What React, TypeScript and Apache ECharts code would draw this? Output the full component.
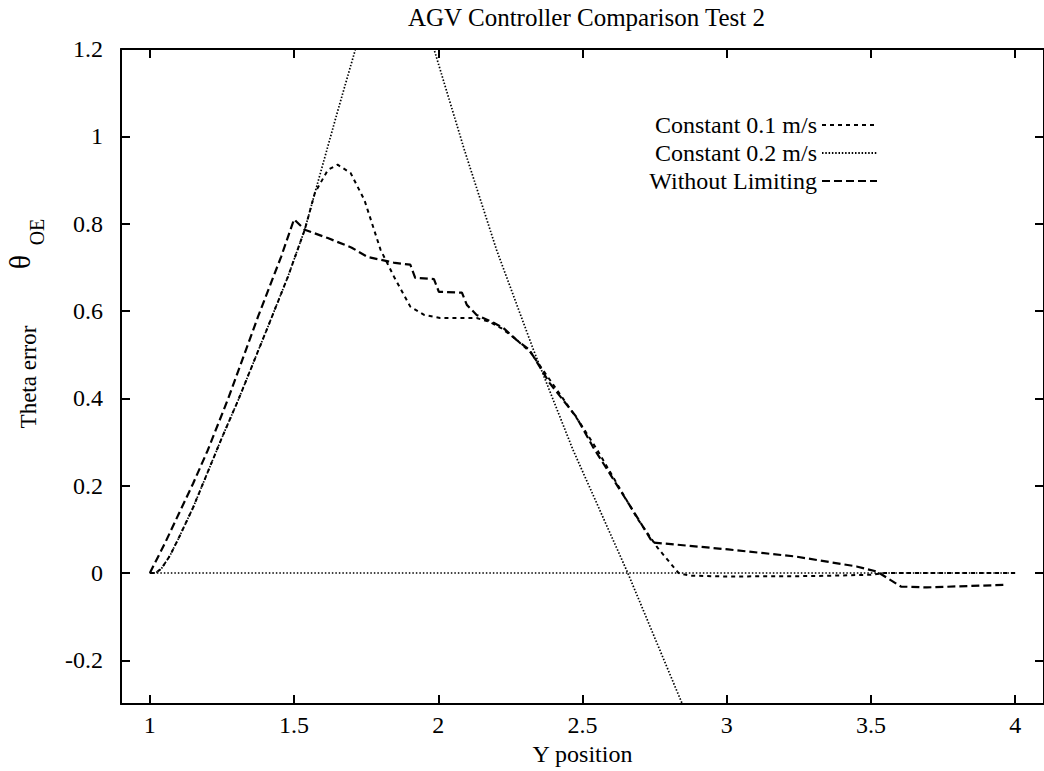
import React, { useEffect, useRef } from "react";
import * as echarts from "echarts";

const FONT = "'Liberation Serif', 'Times New Roman', serif";

const titleText = "AGV Controller Comparison Test 2";
const xAxisTitle = "Y position";
const yAxisTitle = "Theta error";
const seriesNames = ["Constant 0.1 m/s", "Constant 0.2 m/s", "Without Limiting"];

const xRange = [0.9, 4.1];
const yRange = [-0.3, 1.2];

// Constant 0.1 m/s
const c01X = [1.0, 1.02, 1.04, 1.07, 1.1, 1.15, 1.2, 1.25, 1.307, 1.41, 1.479, 1.537, 1.572, 1.617, 1.651, 1.696, 1.744, 1.8, 1.847, 1.903, 1.951, 2.006, 2.133, 2.178, 2.22, 2.27, 2.32, 2.4, 2.49, 2.55, 2.69, 2.76, 2.833, 2.87, 3.0, 3.3, 3.5, 3.546, 3.8, 4.0];
const c01Y = [0.0, 0.0, 0.01, 0.04, 0.08, 0.15, 0.23, 0.31, 0.397, 0.565, 0.679, 0.786, 0.87, 0.923, 0.935, 0.916, 0.854, 0.74, 0.678, 0.61, 0.591, 0.584, 0.584, 0.575, 0.56, 0.535, 0.505, 0.43, 0.345, 0.283, 0.125, 0.058, 0.0, -0.006, -0.008, -0.007, -0.004, 0.0, 0.0, 0.0];

// Constant 0.2 m/s
const c02X = [1.0, 1.02, 1.04, 1.07, 1.1, 1.15, 1.2, 1.25, 1.307, 1.41, 1.479, 1.537, 1.575, 1.65, 1.713, 1.84, 1.985, 2.09, 2.202, 2.33, 2.467, 2.657, 2.846, 2.88];
const c02Y = [0.0, 0.0, 0.01, 0.04, 0.08, 0.15, 0.23, 0.31, 0.397, 0.565, 0.679, 0.786, 0.877, 1.055, 1.2, 1.5, 1.2, 0.97, 0.74, 0.511, 0.282, 0.0, -0.3, -0.35];

// Without Limiting
const wlX = [1.0, 1.05, 1.1, 1.15, 1.2, 1.272, 1.375, 1.455, 1.5, 1.537, 1.617, 1.7, 1.754, 1.85, 1.903, 1.92, 1.985, 2.002, 2.082, 2.099, 2.133, 2.192, 2.226, 2.271, 2.316, 2.385, 2.478, 2.536, 2.695, 2.743, 3.005, 3.236, 3.45, 3.522, 3.604, 3.694, 3.969];
const wlY = [0.0, 0.065, 0.135, 0.205, 0.28, 0.4, 0.587, 0.724, 0.81, 0.786, 0.767, 0.745, 0.724, 0.71, 0.706, 0.676, 0.673, 0.644, 0.642, 0.614, 0.591, 0.573, 0.561, 0.534, 0.511, 0.436, 0.358, 0.289, 0.122, 0.07, 0.054, 0.038, 0.015, 0.003, -0.031, -0.033, -0.027];

// zero reference line
const zeroX = [1.0, 4.0];
const zeroY = [0.0, 0.0];

const zip = (xs: number[], ys: number[]) => xs.map((x, i) => [x, ys[i]]);

export default function App() {
  const ref = useRef<HTMLDivElement>(null);
  useEffect(() => {
    if (!ref.current) return;
    const chart = echarts.init(ref.current, null, { renderer: "svg" });
    const axisLine = { show: true, onZero: false, lineStyle: { color: "#000", width: 2 } };
    const axisTick = { show: true, inside: true, length: 9, lineStyle: { color: "#000", width: 2 } };
    const xFmt = (v: number) => (Math.abs(v * 2 - Math.round(v * 2)) < 1e-6 ? String(Math.round(v * 100) / 100) : "");
    const yFmt = (v: number) => (Math.abs(v * 5 - Math.round(v * 5)) < 1e-6 ? String(Math.round(v * 100) / 100) : "");
    const labelStyle = { color: "#000", fontFamily: FONT, fontSize: 24 };
    chart.setOption({
      animation: false,
      backgroundColor: "#fff",
      title: {
        text: titleText,
        left: 408,
        top: 5,
        padding: 0,
        textStyle: { color: "#000", fontFamily: FONT, fontSize: 25, fontWeight: "normal" },
      },
      legend: {
        orient: "vertical",
        right: 166,
        top: 113,
        padding: 0,
        align: "right",
        itemWidth: 55,
        itemHeight: 14,
        itemGap: 4,
        data: seriesNames,
        itemStyle: { opacity: 0 },
        textStyle: { color: "#000", fontFamily: FONT, fontSize: 24 },
      },
      grid: { left: 121, top: 49, right: -7, bottom: 67 },
      xAxis: [
        {
          type: "value",
          min: xRange[0],
          max: xRange[1],
          splitNumber: 6,
          position: "bottom",
          axisLine,
          axisTick,
          splitLine: { show: false },
          axisLabel: { ...labelStyle, margin: 9, formatter: xFmt, showMinLabel: false, showMaxLabel: false },
          name: xAxisTitle,
          nameLocation: "middle",
          nameGap: 36,
          nameTextStyle: { color: "#000", fontFamily: FONT, fontSize: 24 },
        },
        {
          type: "value",
          min: xRange[0],
          max: xRange[1],
          splitNumber: 6,
          position: "top",
          axisLine,
          axisTick,
          splitLine: { show: false },
          axisLabel: { show: false },
        },
      ],
      yAxis: [
        {
          type: "value",
          min: yRange[0],
          max: yRange[1],
          splitNumber: 8,
          position: "left",
          axisLine,
          axisTick,
          splitLine: { show: false },
          axisLabel: { ...labelStyle, margin: 18, formatter: yFmt, showMinLabel: false },
        },
        {
          type: "value",
          min: yRange[0],
          max: yRange[1],
          splitNumber: 8,
          position: "right",
          axisLine,
          axisTick,
          splitLine: { show: false },
          axisLabel: { show: false },
        },
      ],
      graphic: [
        {
          type: "text",
          x: 28,
          y: 377,
          rotation: Math.PI / 2,
          style: { text: yAxisTitle, fill: "#000", font: `23px ${FONT}`, textAlign: "center", textVerticalAlign: "middle" },
        },
        {
          type: "text",
          x: 19,
          y: 262,
          rotation: Math.PI / 2,
          style: { text: "θ", fill: "#000", font: `30px ${FONT}`, textAlign: "center", textVerticalAlign: "middle" },
        },
        {
          type: "text",
          x: 37,
          y: 232,
          rotation: Math.PI / 2,
          style: { text: "OE", fill: "#000", font: `20px ${FONT}`, textAlign: "center", textVerticalAlign: "middle" },
        },
      ],
      series: [
        {
          name: "zero",
          type: "line",
          data: zip(zeroX, zeroY),
          symbol: "none",
          lineStyle: { color: "#000", width: 1.5, type: [1.5, 2] },
          silent: true,
        },
        {
          name: seriesNames[1],
          type: "line",
          data: zip(c02X, c02Y),
          symbol: "none",
          itemStyle: { color: "#000" },
          lineStyle: { color: "#000", width: 1.7, type: [1.5, 1.8] },
        },
        {
          name: seriesNames[0],
          type: "line",
          data: zip(c01X, c01Y),
          symbol: "none",
          itemStyle: { color: "#000" },
          lineStyle: { color: "#000", width: 2, type: [4, 4] },
        },
        {
          name: seriesNames[2],
          type: "line",
          data: zip(wlX, wlY),
          symbol: "none",
          itemStyle: { color: "#000" },
          lineStyle: { color: "#000", width: 2.2, type: [8, 4] },
        },
      ],
    });
    return () => chart.dispose();
  }, []);
  return <div ref={ref} style={{ position: "absolute", left: 0, top: 0, width: 1044, height: 771 }} />;
}
